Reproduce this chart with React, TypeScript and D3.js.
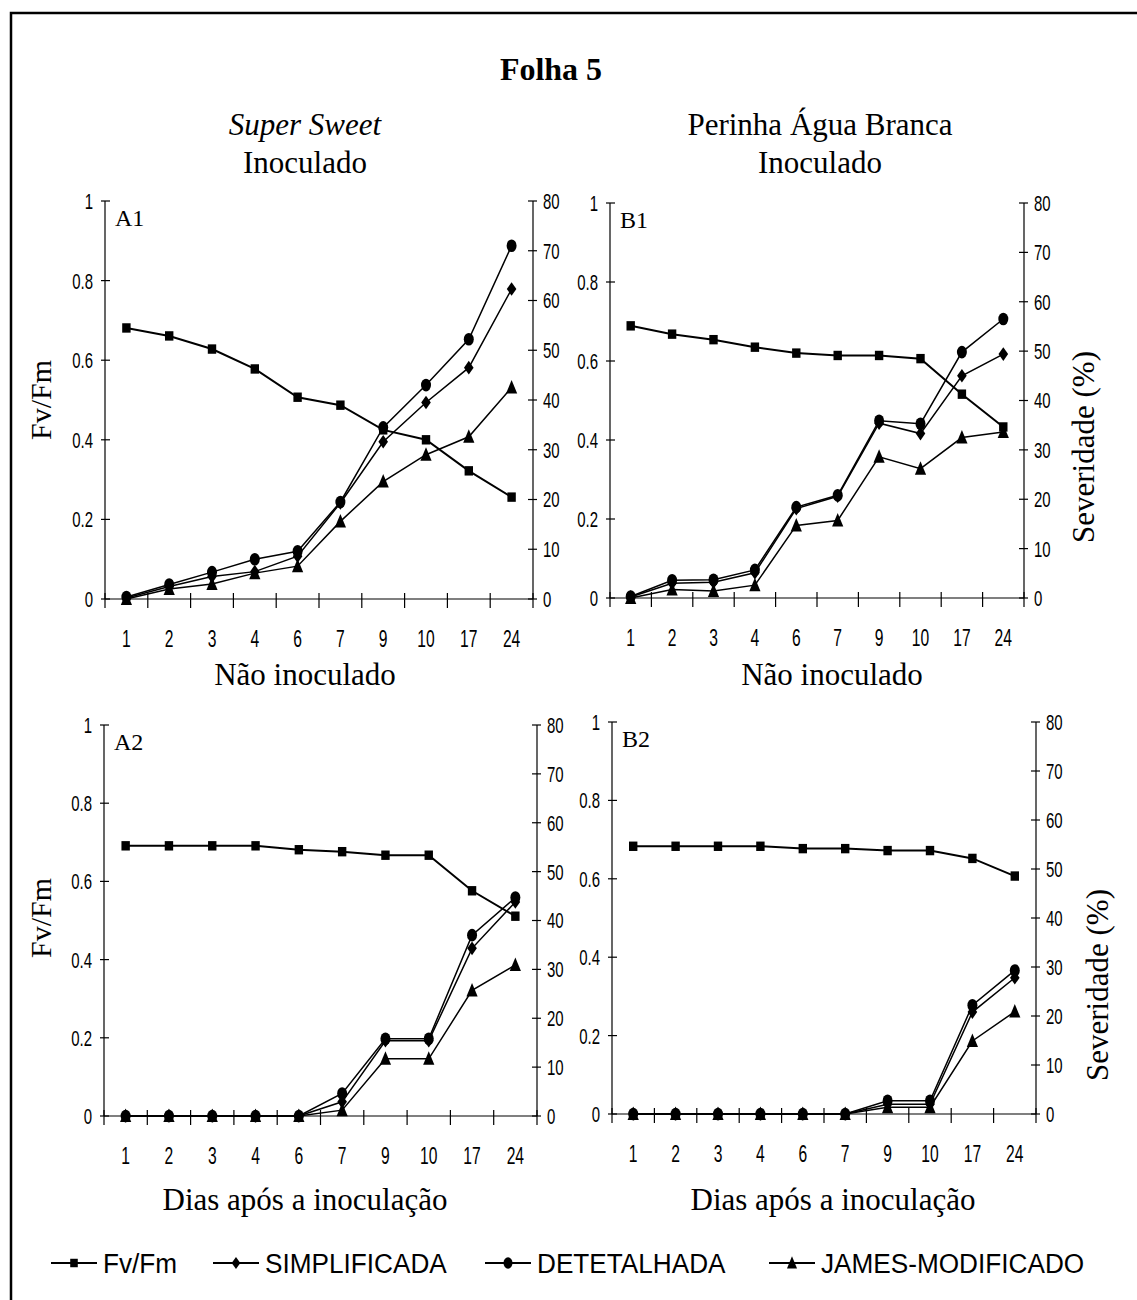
import React from 'react';
import * as d3 from 'd3';

// dias de avaliação (eixo x)
const days = ['1', '2', '3', '4', '6', '7', '9', '10', '17', '24'];

const leftTicks = [0, 0.2, 0.4, 0.6, 0.8, 1];
const leftTickLabels = ['0', '0.2', '0.4', '0.6', '0.8', '1'];
const rightTicks = [0, 10, 20, 30, 40, 50, 60, 70, 80];

// A1 - Super Sweet inoculado
const fvA1 = [0.681, 0.661, 0.628, 0.578, 0.507, 0.487, 0.425, 0.4, 0.322, 0.256];
const simA1 = [0.2, 2.5, 4.5, 5.5, 8.6, 19.3, 31.6, 39.5, 46.5, 62.3];
const detA1 = [0.4, 2.9, 5.4, 8.0, 9.6, 19.5, 34.5, 43.0, 52.2, 71.0];
const jamA1 = [0, 2.0, 3.0, 5.2, 6.6, 15.6, 23.6, 29.0, 32.6, 42.5];

// B1 - Perinha Água Branca inoculado
const fvB1 = [0.689, 0.668, 0.654, 0.635, 0.62, 0.614, 0.614, 0.606, 0.516, 0.433];
const simB1 = [0.2, 3.0, 3.2, 5.1, 18.1, 20.6, 35.4, 33.3, 45.0, 49.4];
const detB1 = [0.3, 3.6, 3.7, 5.7, 18.4, 20.8, 35.9, 35.3, 49.8, 56.5];
const jamB1 = [0, 1.7, 1.4, 2.6, 14.7, 15.7, 28.6, 26.2, 32.5, 33.6];

// A2 - Super Sweet não inoculado
const fvA2 = [0.691, 0.691, 0.691, 0.691, 0.681, 0.676, 0.667, 0.667, 0.576, 0.511];
const simA2 = [0, 0, 0, 0, 0, 2.9, 15.4, 15.4, 34.3, 43.8];
const detA2 = [0, 0, 0, 0, 0, 4.6, 15.8, 15.8, 37.0, 44.7];
const jamA2 = [0, 0, 0, 0, 0, 1.2, 11.7, 11.7, 25.7, 30.9];

// B2 - Perinha Água Branca não inoculado
const fvB2 = [0.683, 0.683, 0.683, 0.683, 0.677, 0.677, 0.672, 0.672, 0.652, 0.607];
const simB2 = [0, 0, 0, 0, 0, 0, 2.0, 2.0, 20.8, 27.8];
const detB2 = [0, 0, 0, 0, 0, 0, 2.7, 2.7, 22.2, 29.3];
const jamB2 = [0, 0, 0, 0, 0, 0, 1.4, 1.4, 14.9, 20.9];

const legendItems = [
  { label: 'Fv/Fm', kind: 'square' },
  { label: 'SIMPLIFICADA', kind: 'diamond' },
  { label: 'DETETALHADA', kind: 'circle' },
  { label: 'JAMES-MODIFICADO', kind: 'triangle' },
];

const SERIF = '"Liberation Serif", "Times New Roman", serif';
const SANS = '"Liberation Sans", Arial, sans-serif';

type Kind = 'square' | 'diamond' | 'circle' | 'triangle';

const marker = (kind: Kind, x: number, y: number, s = 1, key?: any) => {
  if (kind === 'square') return <rect key={key} x={x - 4.2 * s} y={y - 4.7 * s} width={8.4 * s} height={9.4 * s} />;
  if (kind === 'circle') return <ellipse key={key} cx={x} cy={y} rx={5 * s} ry={6.3 * s} />;
  if (kind === 'diamond')
    return <path key={key} d={`M${x},${y - 6.8 * s}L${x + 4.8 * s},${y}L${x},${y + 6.8 * s}L${x - 4.8 * s},${y}Z`} />;
  return <path key={key} d={`M${x},${y - 7.5 * s}L${x + 5.6 * s},${y + 6 * s}L${x - 5.6 * s},${y + 6 * s}Z`} />;
};

const panels = [
  { id: 'A1', left: 105, right: 533, top: 201, bottom: 599, fv: fvA1, sim: simA1, det: detA1, jam: jamA1,
    xTitle: 'Não inoculado', xTitleX: 305, xTitleY: 685, yTitle: 'Fv/Fm', yTitleX: 40, yTitleY: 400 },
  { id: 'B1', left: 610, right: 1024, top: 203, bottom: 598, fv: fvB1, sim: simB1, det: detB1, jam: jamB1,
    xTitle: 'Não inoculado', xTitleX: 832, xTitleY: 685, yTitle: 'Severidade (%)', yTitleX: 1083, yTitleY: 447 },
  { id: 'A2', left: 104, right: 537, top: 725, bottom: 1116, fv: fvA2, sim: simA2, det: detA2, jam: jamA2,
    xTitle: 'Dias após a inoculação', xTitleX: 305, xTitleY: 1210, yTitle: 'Fv/Fm', yTitleX: 40, yTitleY: 918 },
  { id: 'B2', left: 612, right: 1036, top: 722, bottom: 1114, fv: fvB2, sim: simB2, det: detB2, jam: jamB2,
    xTitle: 'Dias após a inoculação', xTitleX: 833, xTitleY: 1210, yTitle: 'Severidade (%)', yTitleX: 1097, yTitleY: 985 },
];

const Panel = ({ p }: { p: any }) => {
  const x = d3.scaleBand<string>().domain(days).range([p.left, p.right]).padding(0);
  const yL = d3.scaleLinear().domain([0, 1]).range([p.bottom, p.top]);
  const yR = d3.scaleLinear().domain([0, 80]).range([p.bottom, p.top]);
  const cx = (d: string) => (x(d) as number) + x.bandwidth() / 2;

  const lineL = d3.line<number>().x((_, i) => cx(days[i])).y((v) => yL(v));
  const lineR = d3.line<number>().x((_, i) => cx(days[i])).y((v) => yR(v));

  const bounds = d3.range(days.length + 1).map((i) => p.left + i * x.step());

  const series: { data: number[]; kind: Kind; line: any; w: number }[] = [
    { data: p.fv, kind: 'square', line: lineL, w: 2 },
    { data: p.sim, kind: 'diamond', line: lineR, w: 1.5 },
    { data: p.det, kind: 'circle', line: lineR, w: 1.5 },
    { data: p.jam, kind: 'triangle', line: lineR, w: 1.5 },
  ];

  return (
    <g>
      {/* eixos */}
      <g stroke="#000" strokeWidth={1.2} fill="none">
        <line x1={p.left} x2={p.left} y1={p.top} y2={p.bottom} />
        <line x1={p.right} x2={p.right} y1={p.top} y2={p.bottom} />
        <line x1={p.left} x2={p.right} y1={p.bottom} y2={p.bottom} />
        {leftTicks.map((t) => (
          <line key={'l' + t} x1={p.left - 4} x2={p.left + 5} y1={yL(t)} y2={yL(t)} />
        ))}
        {rightTicks.map((t) => (
          <line key={'r' + t} x1={p.right - 5} x2={p.right + 4} y1={yR(t)} y2={yR(t)} />
        ))}
        {bounds.map((b, i) => (
          <line key={'b' + i} x1={b} x2={b} y1={p.bottom - 6} y2={p.bottom + 9} />
        ))}
      </g>
      <g fontFamily={SANS} fontSize={22} fill="#000">
        {leftTicks.map((t, i) => (
          <text key={'lt' + t} transform={`translate(${p.left - 12},${yL(t)}) scale(0.68,1)`} dy="0.36em" textAnchor="end">
            {leftTickLabels[i]}
          </text>
        ))}
        {rightTicks.map((t) => (
          <text key={'rt' + t} transform={`translate(${p.right + 10},${yR(t)}) scale(0.68,1)`} dy="0.36em">
            {t}
          </text>
        ))}
        {days.map((d) => (
          <text key={'xt' + d} transform={`translate(${cx(d)},${p.bottom + 40}) scale(0.68,1)`} dy="0.36em" fontSize={23} textAnchor="middle">
            {d}
          </text>
        ))}
      </g>
      {/* séries */}
      {series.map((s, si) => (
        <g key={si}>
          <path d={s.line(s.data)} fill="none" stroke="#000" strokeWidth={s.w} />
          <g fill="#000">
            {s.data.map((v, i) => marker(s.kind, cx(days[i]), s.kind === 'square' ? yL(v) : yR(v), 1, i))}
          </g>
        </g>
      ))}
      <text x={p.left + 10} y={p.top + 25} fontFamily={SERIF} fontSize={24}>{p.id}</text>
      <text x={p.xTitleX} y={p.xTitleY} fontFamily={SERIF} fontSize={31} textAnchor="middle">{p.xTitle}</text>
      <text transform={`translate(${p.yTitleX},${p.yTitleY}) rotate(-90)`} dy="0.35em" fontFamily={SERIF}
        fontSize={p.yTitle === 'Fv/Fm' ? 30 : 31} textAnchor="middle">
        {p.yTitle}
      </text>
    </g>
  );
};

const legendX = [51, 213, 485, 769];

export default function App() {
  return (
    <svg width={1137} height={1300} style={{ position: 'absolute', left: 0, top: 0, background: '#fff' }}>
      <rect width={1137} height={1300} fill="#fff" />
      <path d="M11,1300V13H1137" fill="none" stroke="#000" strokeWidth={2.5} />
      <text x={551} y={80} fontFamily={SERIF} fontSize={32} fontWeight="bold" textAnchor="middle">Folha 5</text>
      <text x={305} y={135} fontFamily={SERIF} fontSize={31} fontStyle="italic" textAnchor="middle">Super Sweet</text>
      <text x={305} y={173} fontFamily={SERIF} fontSize={31} textAnchor="middle">Inoculado</text>
      <text x={820} y={135} fontFamily={SERIF} fontSize={31} textAnchor="middle">Perinha Água Branca</text>
      <text x={820} y={173} fontFamily={SERIF} fontSize={31} textAnchor="middle">Inoculado</text>
      {panels.map((p) => (
        <Panel key={p.id} p={p} />
      ))}
      <g>
        {legendItems.map((it, i) => {
          const lx = legendX[i];
          const ly = 1263;
          return (
            <g key={it.label}>
              <line x1={lx} x2={lx + 46} y1={ly} y2={ly} stroke="#000" strokeWidth={2} />
              <g fill="#000">{marker(it.kind as Kind, lx + 23, ly, 0.9)}</g>
              <text transform={`translate(${lx + 52},${ly}) scale(0.97,1)`} dy="0.36em" fontFamily={SANS} fontSize={27}>
                {it.label}
              </text>
            </g>
          );
        })}
      </g>
    </svg>
  );
}
